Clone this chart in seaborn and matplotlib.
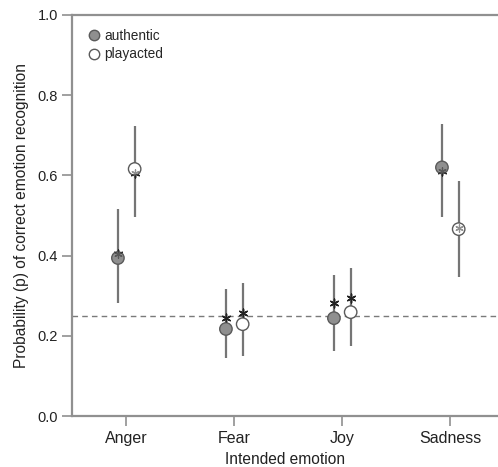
import matplotlib
matplotlib.use("Agg")
import matplotlib.pyplot as plt
from matplotlib.lines import Line2D
import seaborn as sns
import pandas as pd
import numpy as np

# data
emotions = ["Anger", "Fear", "Joy", "Sadness"]
groups = ["authentic", "playacted"]

auth_p = [0.394, 0.217, 0.244, 0.620]
auth_lo = [0.282, 0.145, 0.162, 0.497]
auth_hi = [0.515, 0.317, 0.352, 0.728]
auth_star = [0.405, 0.244, 0.282, 0.610]

play_p = [0.616, 0.229, 0.259, 0.466]
play_lo = [0.496, 0.150, 0.175, 0.347]
play_hi = [0.723, 0.332, 0.369, 0.586]
play_star = [0.605, 0.257, 0.294, 0.468]

chance = 0.25

sns.set_theme(style="white")
plt.rcParams["font.family"] = ["Liberation Sans", "DejaVu Sans"]

df = pd.DataFrame({
    "emotion": emotions * 2,
    "group": ["authentic"] * 4 + ["playacted"] * 4,
    "p": auth_p + play_p,
    "lo": auth_lo + play_lo,
    "hi": auth_hi + play_hi,
    "star": auth_star + play_star,
})
offset = {"authentic": -0.075, "playacted": 0.08}
df["x"] = df["emotion"].map({e: i for i, e in enumerate(emotions)}) + df["group"].map(offset)

fig = plt.figure(figsize=(4.98, 4.67), dpi=100)
ax = fig.add_axes([0.1446, 0.1092, 0.8554, 0.8587])

grey = "#757575"
ax.axhline(chance, color="#7a7a7a", lw=1.0, ls=(0, (4, 3)), zorder=1)
ax.vlines(df["x"], df["lo"], df["hi"], color=grey, lw=1.6, zorder=2)

ax.scatter(df["x"], df["star"], marker=(6, 2, 0), s=40, color="#222222", lw=1.0, zorder=3)

# circles through seaborn, hue = recording type
sns.scatterplot(data=df, x="x", y="p", hue="group", hue_order=groups,
                palette={"authentic": "#8f8f8f", "playacted": "white"},
                edgecolor="#5a5a5a", linewidth=1.0, s=80, zorder=4, ax=ax,
                legend=False)

# star shows faintly on top of the circle in the reference
ax.scatter(df["x"], df["star"], marker=(6, 2, 0), s=28, color="#222222", lw=0.9, zorder=5, alpha=0.5)

handles = [Line2D([], [], marker="o", ls="", markersize=7.5, markerfacecolor="#8f8f8f",
                  markeredgecolor="#5a5a5a", label="authentic"),
           Line2D([], [], marker="o", ls="", markersize=7.5, markerfacecolor="white",
                  markeredgecolor="#5a5a5a", label="playacted")]
ax.legend(handles=handles, loc="upper left", frameon=False, fontsize=9.8,
          handlelength=1.0, handletextpad=0.25, borderaxespad=0.3, labelspacing=0.35,
          bbox_to_anchor=(0.013, 0.99))

ax.set_xlim(-0.5, 3.444)
ax.set_ylim(0, 1.0)
ax.set_xticks(range(len(emotions)))
ax.set_xticklabels(emotions)
ax.set_yticks(np.arange(0, 1.01, 0.2))
ax.set_yticklabels([f"{v:.1f}" for v in np.arange(0, 1.01, 0.2)])
ax.set_xlabel("Intended emotion", fontsize=11.2, color="#222222", labelpad=4)
ax.set_ylabel("Probability (p) of correct emotion recognition", fontsize=11.2,
              color="#222222", labelpad=6)

for side in ["left", "bottom", "top"]:
    ax.spines[side].set_color("#909090")
    ax.spines[side].set_linewidth(1.6)
ax.spines["right"].set_visible(False)
ax.tick_params(axis="both", direction="out", length=7, width=1.2, color="#909090",
               labelcolor="#222222", left=True, bottom=True, pad=3)
ax.tick_params(axis="x", labelsize=11.5, pad=4)
ax.tick_params(axis="y", labelsize=10.5)

fig.savefig("out.png", dpi=100)
